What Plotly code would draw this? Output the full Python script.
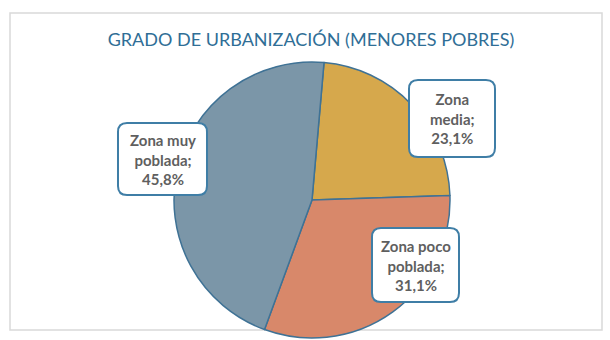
import plotly.graph_objects as go

# Data
categories = ["Zona media", "Zona poco poblada", "Zona muy poblada"]
wrapped = ["Zona<br>media", "Zona poco<br>poblada", "Zona muy<br>poblada"]
values = [23.1, 31.1, 45.8]
colors = ["#d6a84c", "#d8886a", "#7b96a8"]

W, H = 610, 340


def px(x):
    return x / W


def py(y):
    return 1 - y / H


def rounded_rect(x0, y0, x1, y1, r):
    pts = [
        ("M", [(x0 + r, y0)]),
        ("L", [(x1 - r, y0)]),
        ("Q", [(x1, y0), (x1, y0 + r)]),
        ("L", [(x1, y1 - r)]),
        ("Q", [(x1, y1), (x1 - r, y1)]),
        ("L", [(x0 + r, y1)]),
        ("Q", [(x0, y1), (x0, y1 - r)]),
        ("L", [(x0, y0 + r)]),
        ("Q", [(x0, y0), (x0 + r, y0)]),
    ]
    out = []
    for cmd, ps in pts:
        out.append(cmd + " " + " ".join(f"{px(a):.5f},{py(b):.5f}" for a, b in ps))
    return " ".join(out) + " Z"


fig = go.Figure()

# Pie centred at (312, 200) px with radius ~138 px
cx, cy, r = 312, 200, 138
fig.add_trace(go.Pie(
    labels=categories,
    values=values,
    sort=False,
    direction="clockwise",
    rotation=5,
    marker=dict(colors=colors, line=dict(color="#3f7295", width=1.5)),
    textinfo="none",
    hoverinfo="label+percent",
    domain=dict(x=[px(cx - r), px(cx + r)], y=[py(cy + r), py(cy - r)]),
    showlegend=False,
))

shapes = [
    # chart frame
    dict(type="rect", xref="paper", yref="paper",
         x0=px(10), x1=px(602), y0=py(330), y1=py(13),
         line=dict(color="#d9d9d9", width=1.5), fillcolor="white", layer="below"),
]

# Callout boxes (x0, y0, x1, y1) in px, same order as categories
boxes = [(409, 80, 495, 157), (372, 228, 459, 302), (118, 123, 207, 195)]
annotations = []
for name, v, (x0, y0, x1, y1) in zip(wrapped, values, boxes):
    shapes.append(dict(type="path", xref="paper", yref="paper",
                       path=rounded_rect(x0, y0, x1, y1, 9),
                       fillcolor="white", line=dict(color="#3f7ea6", width=2)))
    label = f"{name};<br>{v:.1f}%".replace(".", ",")
    annotations.append(dict(
        x=px((x0 + x1) / 2), y=py((y0 + y1) / 2), xref="paper", yref="paper",
        text=label, showarrow=False, align="center",
        font=dict(family="Lato", size=15, color="#5f5f5f", weight="bold"),
        xanchor="center", yanchor="middle",
    ))

fig.update_layout(
    width=W, height=H,
    margin=dict(l=0, r=0, t=0, b=0),
    paper_bgcolor="white",
    plot_bgcolor="white",
    title=dict(
        text="GRADO DE URBANIZACIÓN (MENORES POBRES)",
        x=px(311), xanchor="center", y=py(40), yanchor="middle",
        font=dict(family="Lato", size=18, color="#2f6e96"),
    ),
    shapes=shapes,
    annotations=annotations,
)

fig.write_html("out.html")
